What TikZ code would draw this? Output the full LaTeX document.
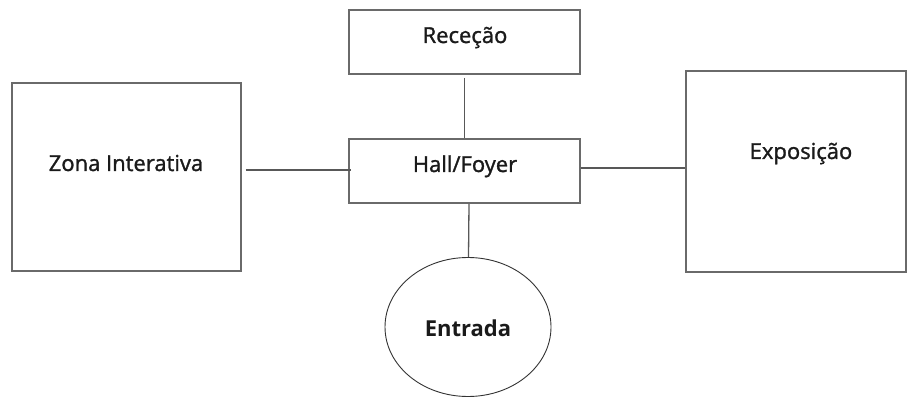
\documentclass[tikz,border=0pt]{standalone}
\usepackage{fontspec}
\setmainfont{Open Sans}
\newfontfamily\medfont[FakeBold=1.3]{Open Sans}
\usetikzlibrary{shapes.geometric}
\definecolor{boxgray}{HTML}{6A6A6A}
\definecolor{linegray}{HTML}{585858}
\definecolor{txt}{HTML}{1A1A1A}
\tikzset{
  roombox/.style={draw=boxgray, line width=1.6pt, rectangle, inner sep=0pt},
  conn/.style={draw=linegray, line width=1.3pt},
  lbl/.style={anchor=base, text=txt, font=\medfont\fontsize{22}{26}\selectfont, inner sep=0pt},
  lblb/.style={lbl, font=\fontsize{22}{26}\selectfont\bfseries}
}
\begin{document}
\begin{tikzpicture}[x=1pt, y=-1pt]
\useasboundingbox (0,0) rectangle (907,398);
% boxes
\node[roombox, minimum width=231pt, minimum height=64pt] (rec) at (464.5,42) {};
\node[roombox, minimum width=231pt, minimum height=64pt] (hall) at (464.5,171) {};
\node[roombox, minimum width=229pt, minimum height=188pt] (zona) at (126.5,177) {};
\node[roombox, minimum width=220pt, minimum height=201pt] (expo) at (796,171.5) {};
\node[ellipse, draw=black!80, line width=0.9pt, minimum width=166pt, minimum height=139pt, inner sep=0pt] (ent) at (468,327) {};
% labels
\node[lbl] (trec) at (465,43) {Receção};
\node[lbl] (thall) at (465,172) {Hall/Foyer};
\node[lbl] (tzona) at (126,171) {Zona Interativa};
\node[lbl] (texpo) at (801,159) {Exposição};
\node[lblb] (tent) at (468,336) {Entrada};
% connectors
\draw[conn] ([yshift=-3pt]rec.south) -- (hall.north);
\draw[conn] ([xshift=4pt,yshift=1pt]zona.east |- hall.west) -- ([xshift=3pt,yshift=1pt]hall.west);
\draw[conn] ([yshift=3pt]hall.east) -- ([yshift=3pt]expo.west |- hall.east);
\draw[conn] ([xshift=4.5pt]hall.south) -- ([xshift=0.5pt]ent.north);
\end{tikzpicture}
\end{document}
